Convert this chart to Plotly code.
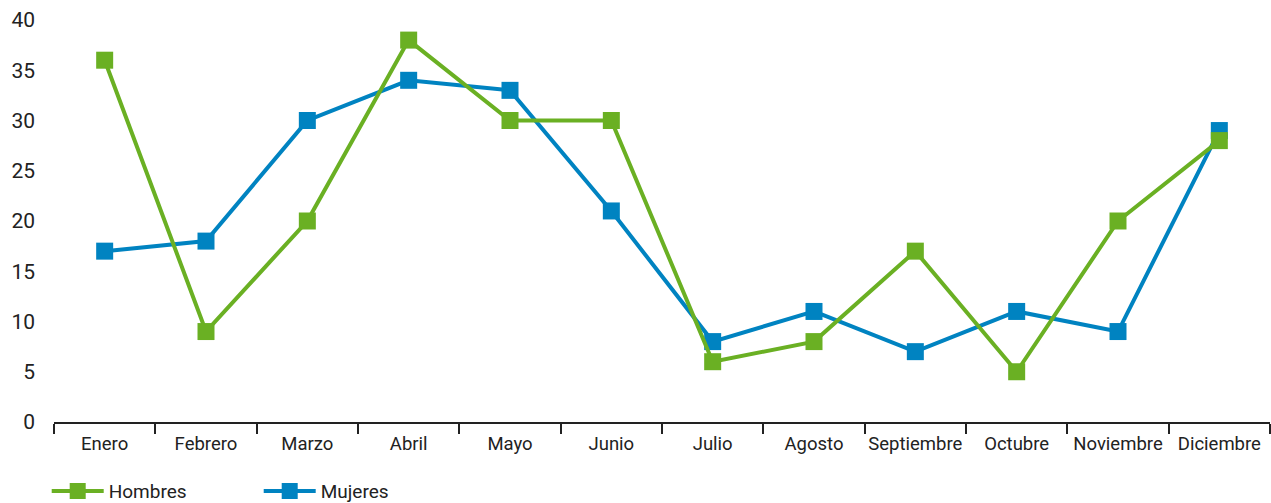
import plotly.graph_objects as go

meses = ["Enero", "Febrero", "Marzo", "Abril", "Mayo", "Junio", "Julio",
         "Agosto", "Septiembre", "Octubre", "Noviembre", "Diciembre"]
hombres = [36, 9, 20, 38, 30, 30, 6, 8, 17, 5, 20, 28]
mujeres = [17, 18, 30, 34, 33, 21, 8, 11, 7, 11, 9, 29]
y_ticks = [0, 5, 10, 15, 20, 25, 30, 35, 40]

GREEN = "#6ab023"
BLUE = "#0083c1"

fig = go.Figure()
fig.add_trace(go.Scatter(x=meses, y=mujeres, name="Mujeres", mode="lines+markers",
                         line=dict(color=BLUE, width=4),
                         marker=dict(symbol="square", size=17, color=BLUE)))
fig.add_trace(go.Scatter(x=meses, y=hombres, name="Hombres", mode="lines+markers",
                         line=dict(color=GREEN, width=4),
                         marker=dict(symbol="square", size=17, color=GREEN)))

fig.update_layout(
    width=1271, height=503,
    margin=dict(l=54, r=1, t=20, b=81, autoexpand=False),
    plot_bgcolor="white", paper_bgcolor="white",
    font=dict(family="Roboto, sans-serif", color="#222222"),
    showlegend=True,
    legend=dict(orientation="h", x=-0.006, xanchor="left", y=-0.172, yanchor="middle",
                traceorder="reversed", font=dict(size=19),
                itemwidth=52,
                entrywidth=145, entrywidthmode="pixels",
                bgcolor="rgba(0,0,0,0)"),
)
fig.update_xaxes(type="category", range=[-0.5, 11.5], showline=True, automargin=False,
                 linecolor="#222222", linewidth=1.5, ticks="outside", tickangle=0,
                 tickson="boundaries", ticklen=10, tickwidth=1.5, tickcolor="#222222",
                 showgrid=False, tickfont=dict(size=18.5), ticklabelstandoff=4)
fig.update_yaxes(range=[0, 40], tickvals=y_ticks, showgrid=False, zeroline=False,
                 automargin=False,
                 showline=False, ticks="", tickfont=dict(size=21), ticklabelstandoff=18)

fig.write_html("out.html", config={"displayModeBar": False},
               post_script="document.body.style.margin='0';document.body.style.overflow='hidden';")
